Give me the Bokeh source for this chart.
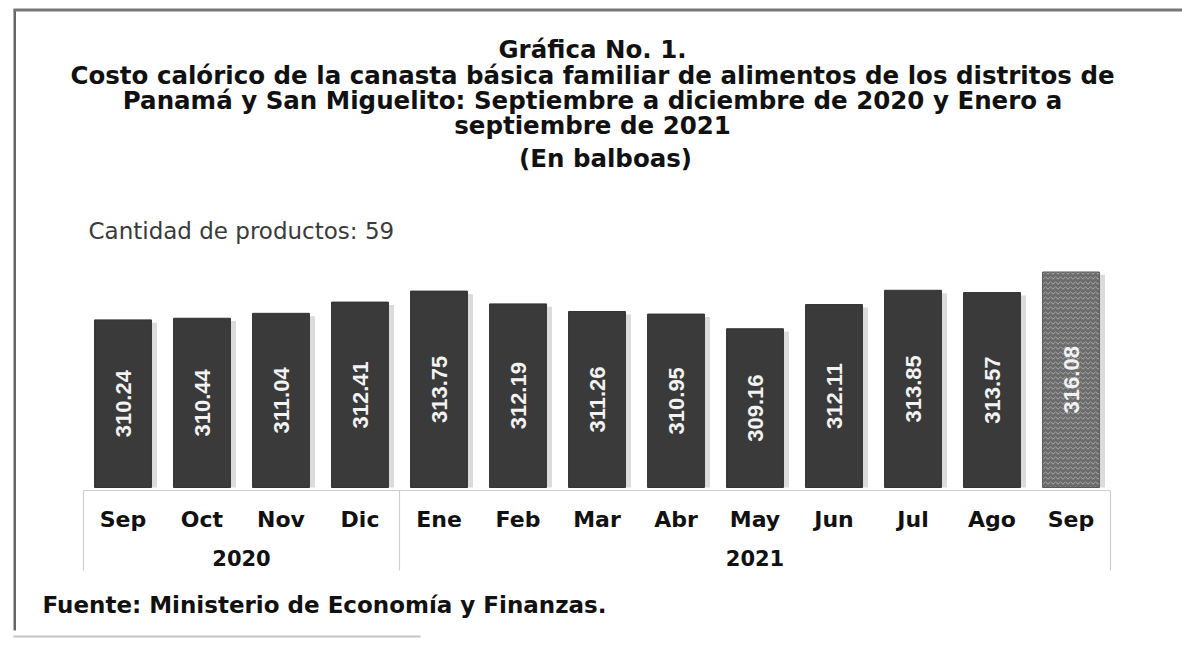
from bokeh.plotting import figure
from bokeh.models import ColumnDataSource, FactorRange, Label, BoxAnnotation, Range1d
from bokeh.core.properties import value
from bokeh.transform import dodge
from bokeh.embed import file_html
from bokeh.resources import INLINE

# ---------------- data ----------------
years = ["2020", "2021"]
months_2020 = ["Sep", "Oct", "Nov", "Dic"]
months_2021 = ["Ene", "Feb", "Mar", "Abr", "May", "Jun", "Jul", "Ago", "Sep"]
cost_2020 = [310.24, 310.44, 311.04, 312.41]
cost_2021 = [313.75, 312.19, 311.26, 310.95, 309.16, 312.11, 313.85, 313.57, 316.08]

title_lines = [
    "Gráfica No. 1.",
    "Costo calórico de la canasta básica familiar de alimentos de los distritos de",
    "Panamá y San Miguelito: Septiembre a diciembre de 2020 y Enero a",
    "septiembre de 2021",
]
subtitle = "(En balboas)"
products_note = "Cantidad de productos: 59"
source_note = "Fuente: Ministerio de Economía y Finanzas."

# ---------------- layout (page pixels) ----------------
W, H = 1182, 645
FRAME_LEFT = 11
BOX_LEFT, BOX_RIGHT = 83, 1110
BAR_BOTTOM = 487
BASE = 289.8        # axis value at bar base
PPU = 8.2           # px per balboa

factors = [(years[0], m) for m in months_2020] + [(years[1], m) for m in months_2021]
costs = cost_2020 + cost_2021
n = len(factors)
CW = (BOX_RIGHT - BOX_LEFT) / n


def X(px):
    return (px - BOX_LEFT) / CW


def Y(py):
    return BASE + (BAR_BOTTOM - py) / PPU


# padding is applied on each side of the factor span
x_range = FactorRange(*factors, factor_padding=0, group_padding=0, subgroup_padding=0,
                      range_padding=(BOX_LEFT - FRAME_LEFT) / CW,
                      range_padding_units="absolute")
y_range = Range1d(Y(H), Y(0))

p = figure(width=W, height=H, x_range=x_range, y_range=y_range, title=None,
           output_backend="svg", toolbar_location=None,
           x_axis_location=None, y_axis_location=None,
           min_border_left=FRAME_LEFT, min_border_right=0,
           min_border_top=0, min_border_bottom=0)
p.outline_line_color = None
p.grid.visible = False
p.background_fill_color = "white"
p.border_fill_color = "white"

labels = ["%.2f" % v for v in costs]
main = ColumnDataSource(dict(
    x=factors[:-1], top=costs[:-1], shadow=[v - 0.35 for v in costs[:-1]],
    mid=[(BASE + v) / 2 for v in costs[:-1]], label=labels[:-1]))
last = ColumnDataSource(dict(
    x=factors[-1:], top=costs[-1:], shadow=[v - 0.35 for v in costs[-1:]],
    mid=[(BASE + v) / 2 for v in costs[-1:]], label=labels[-1:]))

BW = 0.72
for src in (main, last):
    p.vbar(x=dodge("x", 0.07, range=p.x_range), top="shadow", bottom=BASE, width=BW,
           source=src, fill_color="#b8b8b8", fill_alpha=0.5, line_color=None)

p.vbar(x="x", top="top", bottom=BASE, width=BW, source=main,
       fill_color="#3a3a3a", line_color="#333333", line_width=1)
p.vbar(x="x", top="top", bottom=BASE, width=BW, source=last,
       fill_color="#6c6c6c", line_color="#5a5a5a", line_width=1,
       hatch_pattern="horizontal_wave", hatch_color="#a8a8a8", hatch_scale=5,
       hatch_weight=1)

for src in (main, last):
    p.text(x="x", y="mid", text="label", source=src, angle=90, angle_units="deg",
           text_font=value("Liberation Sans"), text_font_style="bold",
           text_font_size="22px", text_color="#f2f2f2",
           text_align="center", text_baseline="middle")

# category box (axis table)
n20 = len(months_2020)
y_top, y_bot = Y(490), Y(570)
p.segment(x0=[0, 0, n20, n], y0=[y_top] * 4, x1=[n, 0, n20, n],
          y1=[y_top, y_bot, y_bot, y_bot], line_color="#cfcfcf", line_width=1.2)

# month labels & year labels
p.text(x=factors, y=[Y(519)] * n, text=[f[1] for f in factors],
       text_font=value("DejaVu Sans"), text_font_style="bold", text_font_size="22px",
       text_color="#111111", text_align="center", text_baseline="middle")
p.text(x=years, y=[Y(557)] * len(years), text=years,
       text_font=value("DejaVu Sans"), text_font_style="bold", text_font_size="21px",
       text_color="#111111", text_align="center", text_baseline="middle")

# titles and notes
title_y = [49, 75, 100, 125]
for t, ty in zip(title_lines, title_y):
    p.add_layout(Label(x=X(592), y=Y(ty), text=t, text_align="center",
                       text_baseline="middle", text_font="DejaVu Sans",
                       text_font_style="bold", text_font_size="24.5px",
                       text_color="#111111"))
p.add_layout(Label(x=X(605), y=Y(158), text=subtitle, text_align="center",
                   text_baseline="middle", text_font="DejaVu Sans",
                   text_font_style="bold", text_font_size="24.5px", text_color="#111111"))
p.add_layout(Label(x=X(88), y=Y(230), text=products_note, text_align="left",
                   text_baseline="middle", text_font="DejaVu Sans",
                   text_font_size="23px", text_color="#3a3a3a"))
p.add_layout(Label(x=X(42), y=Y(604), text=source_note, text_align="left",
                   text_baseline="middle", text_font="DejaVu Sans",
                   text_font_style="bold", text_font_size="23px", text_color="#111111"))

# scan border lines
p.add_layout(BoxAnnotation(left=X(13), right=X(15.5), top=Y(9), bottom=Y(630),
                           fill_color="#666666", fill_alpha=1, line_color=None))
p.add_layout(BoxAnnotation(left=X(13), right=X(W), top=Y(8), bottom=Y(11),
                           fill_color="#777777", fill_alpha=1, line_color=None))
p.add_layout(BoxAnnotation(left=X(13), right=X(420), top=Y(635), bottom=Y(637),
                           fill_color="#c4c4c4", fill_alpha=1, line_color=None))

open("out.html", "w").write(file_html(p, INLINE))
